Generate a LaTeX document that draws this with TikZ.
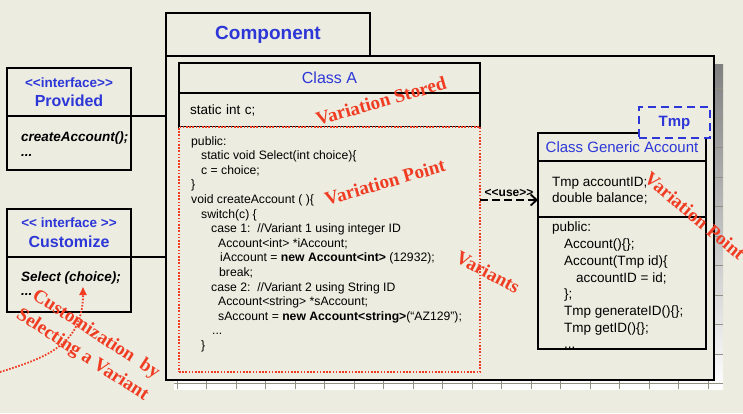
\documentclass[tikz,border=0pt]{standalone}
\usepackage{fontspec}
\setmainfont{Liberation Sans}
\newfontfamily\timesfont{Liberation Serif}
\usetikzlibrary{arrows.meta}
\definecolor{bg}{RGB}{236,236,224}
\definecolor{umlblue}{RGB}{45,55,215}
\definecolor{varred}{RGB}{240,60,35}
\definecolor{shade}{RGB}{172,172,158}
\definecolor{shadeline}{RGB}{145,145,132}
\newcommand{\fs}[2]{\fontsize{#1}{#2}\selectfont}
\begin{document}
\begin{tikzpicture}[x=1pt,y=1pt,
  box/.style={draw,line width=1.8pt,fill=bg,inner sep=0pt,outer sep=0pt,anchor=north west},
  bluetitle/.style={text=umlblue},
  code/.style={anchor=north west,align=left,inner sep=0pt},
  redlabel/.style={text=varred,inner sep=0pt,font=\timesfont\bfseries\fs{19}{25}},
  reddot/.style={draw=varred,line width=1.8pt,dash pattern=on 1.6pt off 1.6pt}]
\clip (0,0) rectangle (743,-413);
\fill[bg] (0,0) rectangle (743,-413);

% shadow of the component
\fill[shade] (174,-64) rectangle (723,-389);
\begin{scope}
\clip (174,-64) rectangle (723,-389);
\draw[shadeline,thin,xstep=29.5,ystep=29.5] (174,-64) grid (723,-389);
\end{scope}

% component
\node[box,line width=2.2pt,minimum width=548pt,minimum height=324pt](comp) at (166,-56){};
\node[box,minimum width=204pt,minimum height=43pt,bluetitle,font=\bfseries\fs{19}{22}](comptab) at (166,-13){Component};

% class A
\node[box,minimum width=301pt,minimum height=30pt,bluetitle,font=\fs{16}{18}](clsA) at (179,-63){Class A};
\node[box,minimum width=301pt,minimum height=34pt,text width=279pt,align=left,font=\fs{13.5}{16}](clsAattr) at (179,-93){static int c;};
\node[box,reddot,minimum width=301pt,minimum height=245pt](clsAbody) at (179,-127){};
\node[code,font=\fs{12.2}{14.6}](codeA) at (191,-136){public:\\
\hspace*{10pt}static void Select(int choice)\{\\
\hspace*{10pt}c = choice;\\
\}\\
void createAccount ( )\{\\
\hspace*{10pt}switch(c) \{\\
\hspace*{20pt}case 1:\ \ //Variant 1 using integer ID\\
\hspace*{27pt}Account<int> *iAccount;\\
\hspace*{29pt}iAccount = \textbf{new Account<int>} (12932);\\
\hspace*{28pt}break;\\
\hspace*{20pt}case 2:\ \ //Variant 2 using String ID\\
\hspace*{27pt}Account<string> *sAccount;\\
\hspace*{27pt}sAccount = \textbf{new Account<string>}(“AZ129”);\\
\hspace*{21pt}...\\
\hspace*{10pt}\}};

% generic account
\node[box,minimum width=168pt,minimum height=28pt,bluetitle,font=\fs{15}{17}](gen) at (538,-133){Class Generic Account};
\node[box,minimum width=168pt,minimum height=56pt](genattr) at (538,-161){};
\node[code,font=\fs{13.5}{16}](genattrtxt) at (552,-177){Tmp accountID;\\double balance;};
\node[box,minimum width=168pt,minimum height=132pt](genops) at (538,-217){};
\node[code,font=\fs{13.5}{16.7}](genopstxt) at (552,-222){public:\\
\hspace*{12pt}Account()\{\};\\
\hspace*{12pt}Account(Tmp id)\{\\
\hspace*{24pt}accountID = id;\\
\hspace*{12pt}\};\\
\hspace*{12pt}Tmp generateID()\{\};\\
\hspace*{12pt}Tmp getID()\{\};\\
\hspace*{12pt}...};
\node[box,draw=umlblue,dash pattern=on 8pt off 5pt,minimum width=71pt,minimum height=31pt,bluetitle,font=\bfseries\fs{15}{17}](tmp) at (639,-107){Tmp};

% interfaces
\node[box,minimum width=124pt,minimum height=48pt,align=center,bluetitle,font=\bfseries\fs{16}{19}](provhead) at (7,-68){{\fs{13.5}{19}<{}<interface>{}>}\\Provided};
\node[box,minimum width=124pt,minimum height=54pt](provbody) at (7,-116){};
\node[code,font=\bfseries\itshape\fs{13.5}{15}](provops) at (21,-132){createAccount();\\...};
\node[box,minimum width=124pt,minimum height=48pt,align=center,bluetitle,font=\bfseries\fs{16}{20}](custhead) at (7,-209){{\fs{13.5}{20}<{}< interface >{}>}\\Customize};
\node[box,minimum width=124pt,minimum height=55pt](custbody) at (7,-257){};
\node[code,font=\bfseries\itshape\fs{13.5}{14}](custops) at (21,-272){Select (choice);\\...};

\draw[line width=1.8pt](provhead.south east)--(provhead.south east -| comp.west);
\draw[line width=1.8pt](custhead.south east)--(custhead.south east -| comp.west);

% use relation
\coordinate(usey) at (0,-200);
\draw[line width=1.8pt,dash pattern=on 8pt off 4pt,-{Straight Barb[length=6pt,width=11pt]}](clsAbody.east |- usey)--(genattr.west |- usey)
  node[midway,above=1pt,inner sep=1pt,font=\bfseries\fs{12}{14}](uselbl){<{}<use>{}>};

% variation labels
\node[redlabel,rotate=16](vstored) at (381,-101){Variation Stored};
\node[redlabel,rotate=16](vpoint) at (385,-182){Variation Point};
\node[redlabel,rotate=-28](variants) at (488,-272){Variants};
\node[redlabel,rotate=-40](vpointgen) at (695,-216){Variation Point};
\node[redlabel,rotate=-33,align=center](custsel) at (89,-345){Customization\ \ by\\Selecting a Variant};

\coordinate(selsrc) at (0,-372);
\coordinate(seltip) at (83,-287);
\draw[reddot,-{Triangle[length=8pt,width=7pt]}](selsrc) .. controls (45,-358) and (83,-345) .. (seltip);
\end{tikzpicture}
\end{document}
